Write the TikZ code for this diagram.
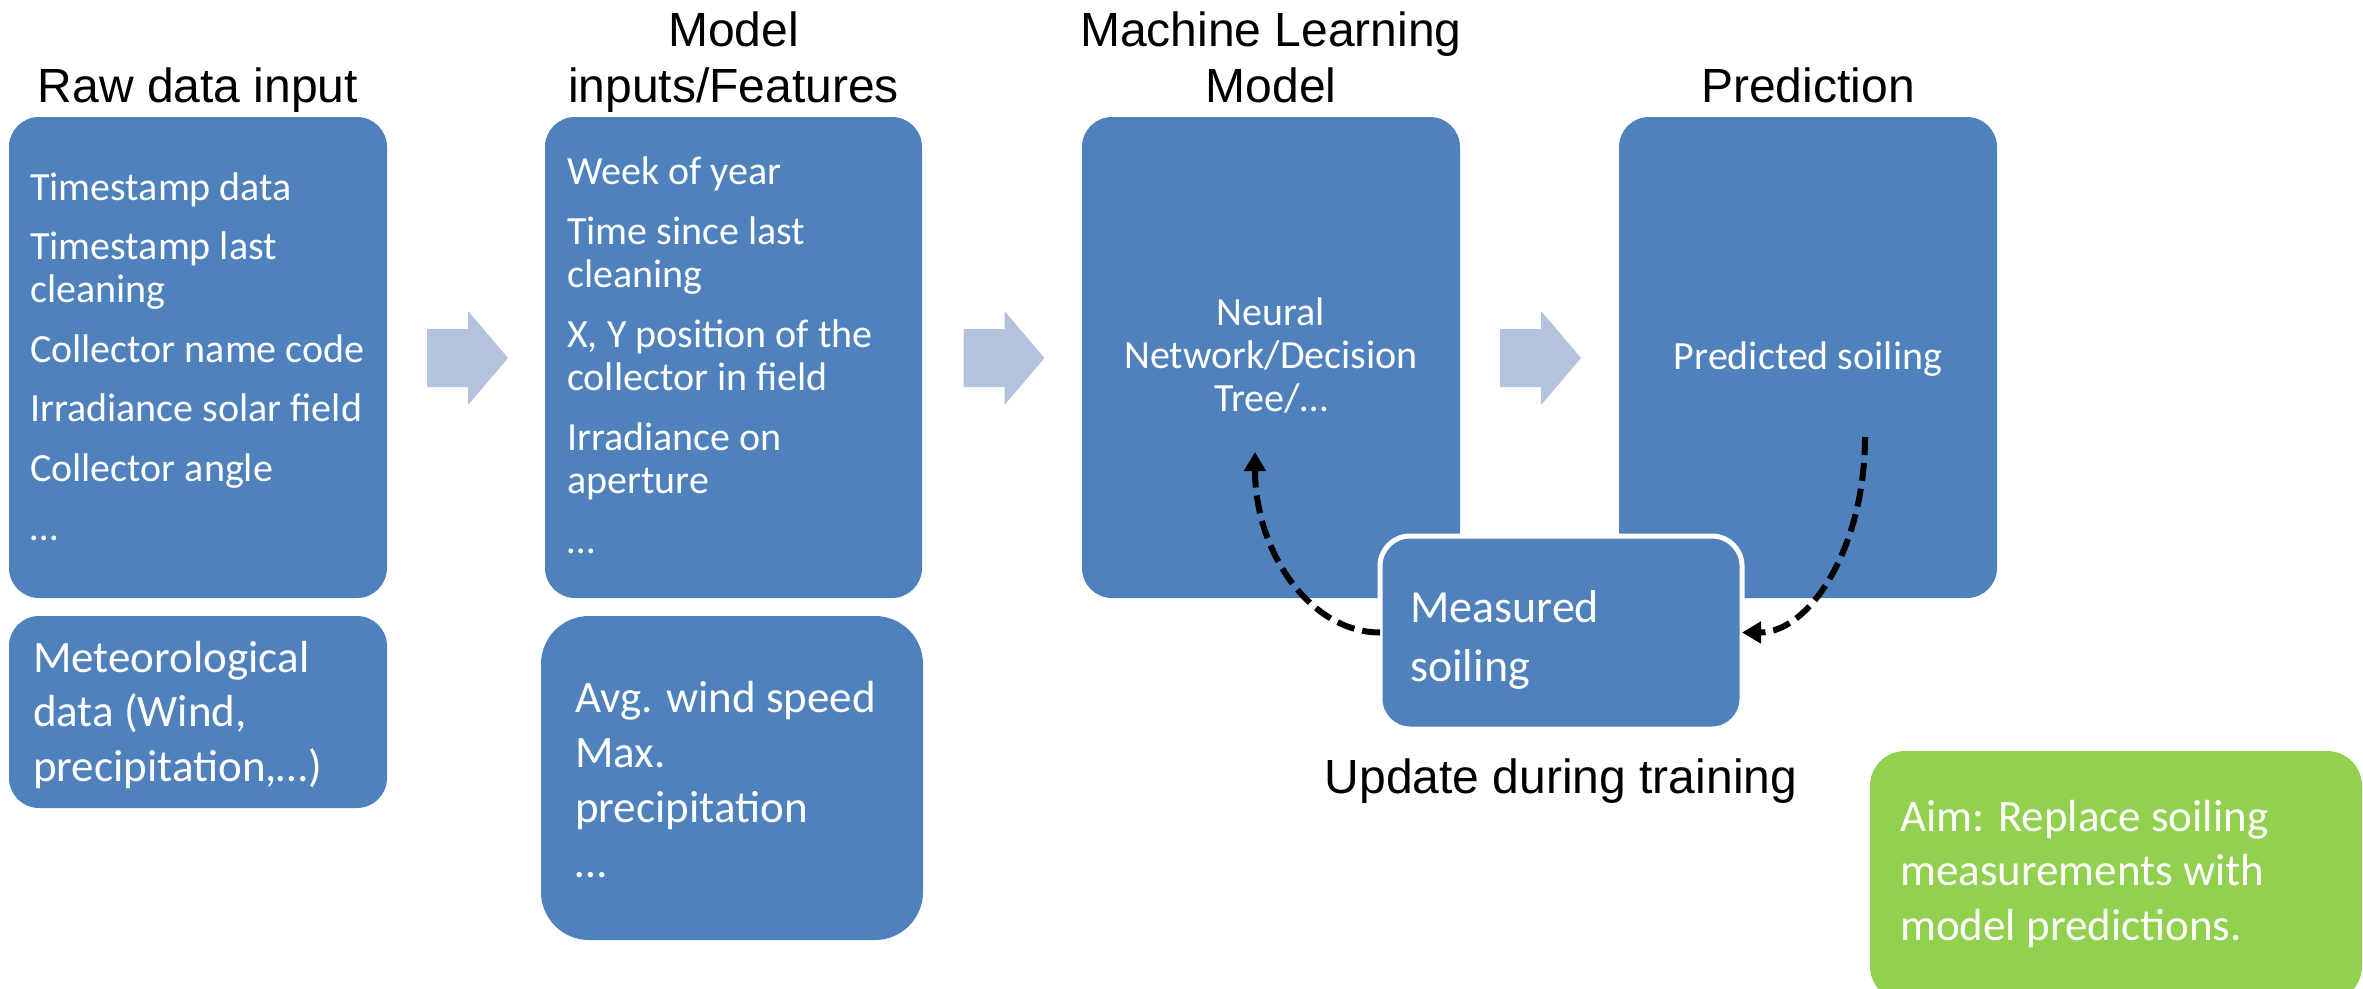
\documentclass[tikz,border=0pt]{standalone}
\usepackage{fontspec}
\setmainfont{Carlito}
\newfontfamily\arialf{Liberation Sans}
\usetikzlibrary{arrows.meta}
\definecolor{boxblue}{HTML}{4F81BD}
\definecolor{chev}{HTML}{B3C2DD}
\definecolor{aimgreen}{HTML}{92D050}
\begin{document}
\begin{tikzpicture}[x=1pt,y=-1pt,
  box/.style={fill=boxblue, rounded corners=30pt, draw=none, inner sep=0pt, outer sep=0pt, anchor=north west},
  btext/.style={text=white, anchor=base west, align=left, inner sep=0pt, font=\fontsize{40pt}{43pt}\selectfont},
  bigtext/.style={btext, font=\fontsize{45pt}{54.5pt}\selectfont},
  ctext/.style={text=white, anchor=base, align=center, inner sep=0pt, font=\fontsize{40pt}{43pt}\selectfont},
  ttl/.style={font=\arialf\fontsize{48pt}{56pt}\selectfont, anchor=base, align=center, inner sep=0pt},
  dasharrow/.style={line width=6pt, dash pattern=on 18pt off 8pt, -{Triangle[width=21pt,length=19pt]}}]
\useasboundingbox (0,0) rectangle (2363,988);
% boxes
\node[box, minimum width=378pt, minimum height=481pt] (raw) at (9,117) {};
\node[box, minimum width=378pt, minimum height=192pt] (met) at (9,616) {};
\node[box, minimum width=377pt, minimum height=481pt] (feat) at (545,117) {};
\node[box, rounded corners=48pt, minimum width=382pt, minimum height=324pt] (wx) at (541,616) {};
\node[box, minimum width=378pt, minimum height=481pt] (ml) at (1082,117) {};
\node[box, minimum width=378pt, minimum height=481pt] (pred) at (1619,117) {};
\node[box, draw=white, line width=5pt, minimum width=362pt, minimum height=193pt] (meas) at (1380,536) {};
\node[box, fill=aimgreen, rounded corners=35pt, minimum width=492pt, minimum height=250pt] (aim) at (1870,751) {};
% chevrons
\foreach \dx in {0,536.5,1073}
  \fill[chev] (427+\dx,329) -- (468+\dx,329) -- (468+\dx,311) -- (508+\dx,358) -- (468+\dx,405) -- (468+\dx,387) -- (427+\dx,387) -- cycle;
% titles (anchor base = last line)
\node[ttl] (t1) at (198,102) {Raw data input};
\node[ttl] (t2) at (733.5,102) {Model\\inputs/Features};
\node[ttl] (t3) at (1271,102) {Machine Learning\\Model};
\node[ttl] (t4) at (1808,102) {Prediction};
\node[ttl] (t5) at (1561,793) {Update during training};
% box texts (anchor base = last line)
\node[btext] (rawtxt) at (30,540.5) {Timestamp data\\[16.5pt]Timestamp last\\cleaning\\[16.5pt]Collector name code\\[16.5pt]Irradiance solar field\\[16.5pt]Collector angle\\[16.5pt]…};
\node[bigtext] (mettxt) at (33,781) {Meteorological\\data (Wind,\\precipitation,…)};
\node[btext] (feattxt) at (567,553) {Week of year\\[17pt]Time since last\\cleaning\\[17pt]X, Y position of the\\collector in field\\[17pt]Irradiance on\\aperture\\[17pt]…};
\node[bigtext, font=\fontsize{45pt}{55pt}\selectfont] (wxtxt) at (575,877) {Avg. wind speed\\Max.\\precipitation\\…};
\node[ctext] (mltxt) at (1271,411) {Neural\\Network/Decision\\Tree/…};
\node[ctext] (predtxt) at (1808,369) {Predicted soiling};
\node[bigtext, font=\fontsize{46pt}{59pt}\selectfont] (meastxt) at (1410,681) {Measured\\soiling};
\node[bigtext] (aimtxt) at (1900,940) {Aim: Replace soiling\\measurements with\\model predictions.};
% dashed loop
\coordinate (predsrc) at (1865,437);
\coordinate (mlsink) at (1255,452);
\draw[dasharrow] (predsrc) .. controls +(0,110) and +(68,0) .. (meas.east);
\draw[dasharrow] (meas.west) .. controls +(-69,0) and +(0,101) .. (mlsink);
\end{tikzpicture}
\end{document}
